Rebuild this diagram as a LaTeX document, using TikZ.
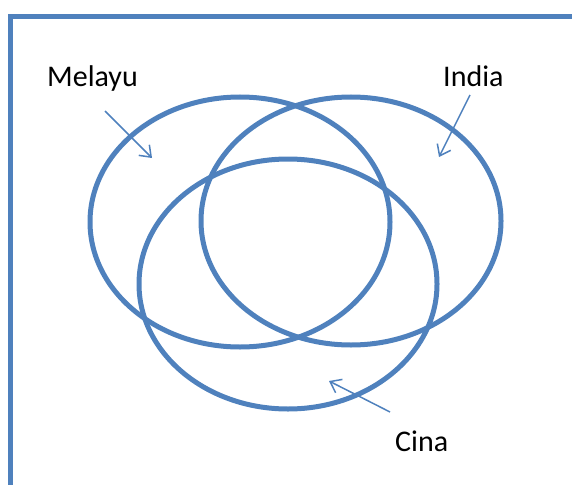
\documentclass[tikz,border=0pt]{standalone}
\usepackage{fontspec}
\setmainfont{Carlito}
\usetikzlibrary{arrows.meta}
\definecolor{vblue}{HTML}{4F81BD}
\begin{document}
\begin{tikzpicture}[x=1pt,y=-1pt,
  ring/.style={draw=vblue,line width=5pt},
  pointer/.style={draw=vblue,line width=1.5pt,-{Straight Barb[length=10pt,width=15pt,line width=1.5pt]}},
  lbl/.style={font=\fontsize{30}{36}\selectfont,text=black,inner sep=0pt}]
\useasboundingbox (0,0) rectangle (572,484);
\draw[draw=vblue,line width=5pt] (10.5,490) coordinate (fb) -- (10.5,16.5) coordinate (fc) -- (580,16.5) coordinate (fr);
\draw[ring] (240,222) ellipse [x radius=150, y radius=125];
\draw[ring] (351,221) ellipse [x radius=150, y radius=124];
\draw[ring] (288,284) ellipse [x radius=149, y radius=125];
\node[lbl,anchor=base west] (melayu) at (47,87) {Melayu};
\node[lbl,anchor=base west] (india) at (443,87) {India};
\node[lbl,anchor=base west] (cina) at (395,451) {Cina};
\coordinate (m1) at (105,111); \coordinate (m2) at (152,158);
\coordinate (i1) at (470,95); \coordinate (i2) at (439,157);
\coordinate (c1) at (390,412); \coordinate (c2) at (329,381);
\draw[pointer] (m1) -- (m2);
\draw[pointer] (i1) -- (i2);
\draw[pointer] (c1) -- (c2);
\end{tikzpicture}
\end{document}
